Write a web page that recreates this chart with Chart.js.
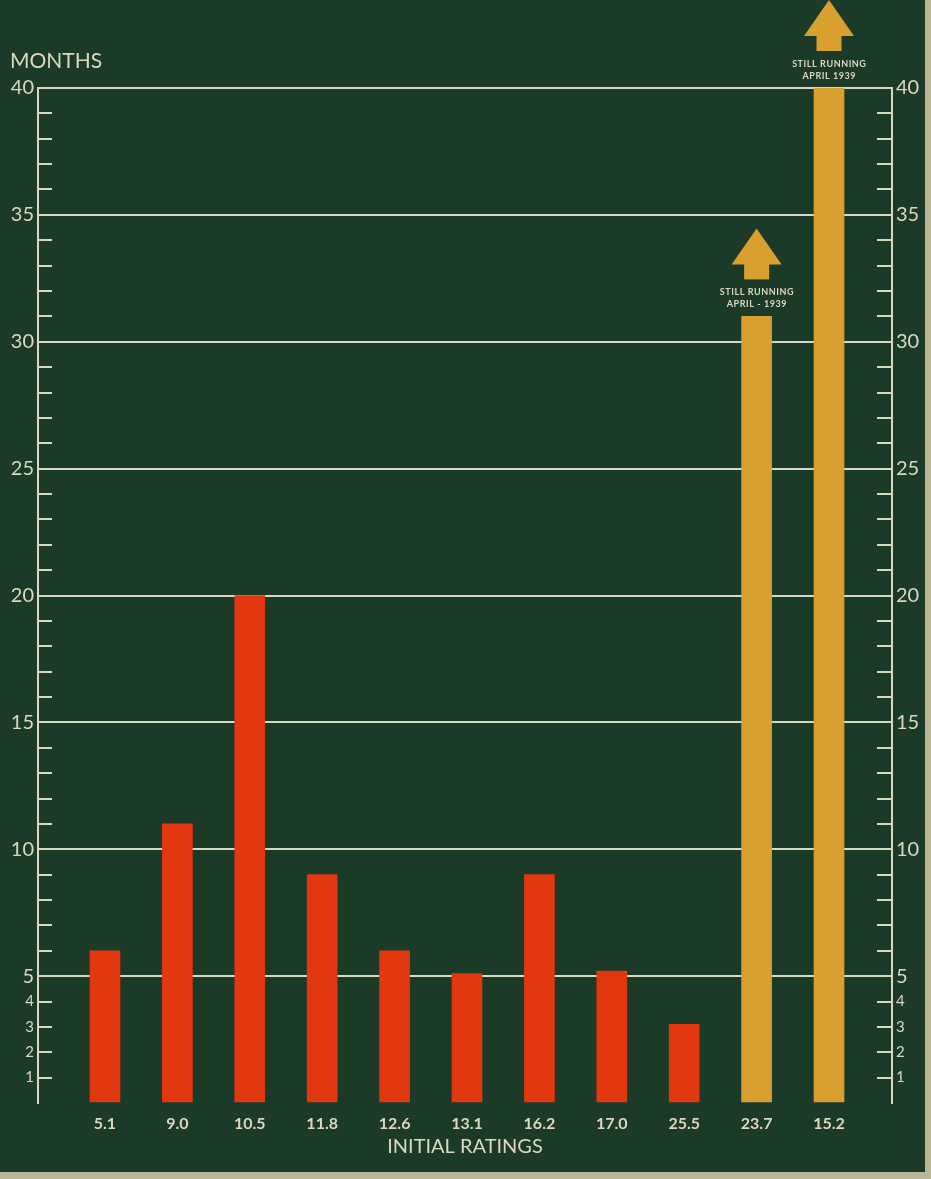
<!DOCTYPE html>
<html>
<head>
<meta charset="utf-8">
<script src="https://cdn.jsdelivr.net/npm/chart.js@4.4.0/dist/chart.umd.min.js"></script>
<style>
  html, body { margin: 0; padding: 0; background: #b9b596; }
  #wrap { width: 925px; height: 1172px; }
</style>
</head>
<body>
<div id="wrap"><canvas id="ratingsChart" width="925" height="1172"></canvas></div>
<script>
// values
var ratings = ['5.1', '9.0', '10.5', '11.8', '12.6', '13.1', '16.2', '17.0', '25.5', '23.7', '15.2'];
var months = [6.0, 11.0, 20.0, 9.0, 6.0, 5.1, 9.0, 5.2, 3.1, 31.0, 40.0];
var stillRunning = [false, false, false, false, false, false, false, false, false, true, true];
var runningNotes = [null, null, null, null, null, null, null, null, null,
    ['STILL RUNNING', 'APRIL - 1939'], ['STILL RUNNING', 'APRIL 1939']];
var yLabelTicks = [1, 2, 3, 4, 5, 10, 15, 20, 25, 30, 35, 40];

var BG = '#1b3a28';
var CHALK = '#dcd8bf';
var RED = '#e2370f';
var GOLD = '#d9a030';
var FONT = 'Lato, "DejaVu Sans", sans-serif';

function allMonths(scale) {
    var t = [];
    for (var v = 0; v <= 40; v++) t.push({ value: v });
    scale.ticks = t;
}

function yTickLabel(v) {
    return yLabelTicks.indexOf(v) >= 0 ? String(v) : '';
}

function yTickFont(ctx) {
    var v = ctx.tick ? ctx.tick.value : 10;
    return { family: FONT, size: v < 5 ? 15 : 20 };
}

// background, inward minor ticks, "still running" arrows, MONTHS label
var chalkPlugin = {
    id: 'chalk',
    beforeDraw: function (chart) {
        var c = chart.ctx;
        c.save();
        c.fillStyle = BG;
        c.fillRect(0, 0, chart.width, chart.height);
        c.restore();
    },
    beforeDatasetsDraw: function (chart) {
        var c = chart.ctx, a = chart.chartArea, ys = chart.scales.y;
        c.save();
        c.strokeStyle = CHALK;
        c.lineWidth = 2;
        for (var v = 1; v < 40; v++) {
            if (v % 5 === 0) continue;
            var y = Math.round(ys.getPixelForValue(v));
            c.beginPath();
            c.moveTo(a.left, y); c.lineTo(a.left + 14, y);
            c.moveTo(a.right - 15, y); c.lineTo(a.right, y);
            c.stroke();
        }
        c.restore();
    },
    afterDatasetsDraw: function (chart) {
        var c = chart.ctx;
        var meta = chart.getDatasetMeta(0);
        c.save();
        stillRunning.forEach(function (s, i) {
            if (!s) return;
            var el = meta.data[i];
            var x = el.x, top = el.y;
            c.fillStyle = GOLD;
            c.fillRect(x - 12.5, top - 53, 25, 16);
            c.beginPath();
            c.moveTo(x - 25, top - 52);
            c.lineTo(x + 25, top - 52);
            c.lineTo(x, top - 88);
            c.closePath();
            c.fill();
            c.fillStyle = CHALK;
            c.font = 'bold 9px ' + FONT;
            c.textAlign = 'center';
            c.textBaseline = 'middle';
            c.fillText(runningNotes[i][0].split('').join(String.fromCharCode(8202)), x, top - 24);
            c.fillText(runningNotes[i][1].split('').join(String.fromCharCode(8202)), x, top - 12);
        });
        c.fillStyle = CHALK;
        c.font = '21px ' + FONT;
        c.textAlign = 'left';
        c.textBaseline = 'alphabetic';
        c.fillText('MONTHS', 10, 68);
        c.restore();
    }
};

var ctx = document.getElementById('ratingsChart').getContext('2d');

var ratingsChart = new Chart(ctx, {
    type: 'bar',
    data: {
        datasets: [{
            label: 'Months',
            data: months.map(function (m, i) { return { x: i, y: m }; }),
            backgroundColor: stillRunning.map(function (s) { return s ? GOLD : RED; }),
            borderWidth: 0,
            barThickness: 30,
            yAxisID: 'y'
        }]
    },
    options: {
        responsive: false,
        animation: false,
        layout: { padding: { top: 88, left: 0, right: 0, bottom: 13 } },
        plugins: {
            legend: { display: false },
            tooltip: { enabled: false }
        },
        scales: {
            x: {
                type: 'linear',
                offset: false,
                min: -0.925,
                max: 10.87,
                afterBuildTicks: function (scale) {
                    scale.ticks = ratings.map(function (r, i) { return { value: i }; });
                },
                afterFit: function (scale) { scale.height = 56; },
                grid: { display: false, offset: false },
                border: { display: false },
                ticks: {
                    autoSkip: false,
                    maxRotation: 0,
                    padding: 3,
                    color: CHALK,
                    font: { family: FONT, size: 16, weight: 'bold' },
                    callback: function (v) { return ratings[v]; }
                },
                title: {
                    display: true,
                    text: 'INITIAL RATINGS',
                    color: CHALK,
                    font: { family: FONT, size: 20 },
                    padding: { top: 2, bottom: 0 }
                }
            },
            y: {
                position: 'left',
                min: 0,
                max: 40,
                afterBuildTicks: allMonths,
                afterFit: function (scale) { scale.width = 38; },
                grid: {
                    drawTicks: false,
                    lineWidth: 2,
                    color: function (c) {
                        var v = c.tick ? c.tick.value : 0;
                        return v > 0 && v % 5 === 0 ? CHALK : 'rgba(0,0,0,0)';
                    }
                },
                border: { color: CHALK, width: 2 },
                ticks: {
                    autoSkip: false,
                    padding: 4,
                    color: CHALK,
                    font: yTickFont,
                    callback: yTickLabel
                }
            },
            y2: {
                position: 'right',
                min: 0,
                max: 40,
                afterBuildTicks: allMonths,
                afterFit: function (scale) { scale.width = 33; },
                grid: { drawOnChartArea: false, drawTicks: false },
                border: { color: CHALK, width: 2 },
                ticks: {
                    autoSkip: false,
                    padding: 4,
                    color: CHALK,
                    font: yTickFont,
                    callback: yTickLabel
                }
            }
        }
    },
    plugins: [chalkPlugin]
});
</script>
</body>
</html>
